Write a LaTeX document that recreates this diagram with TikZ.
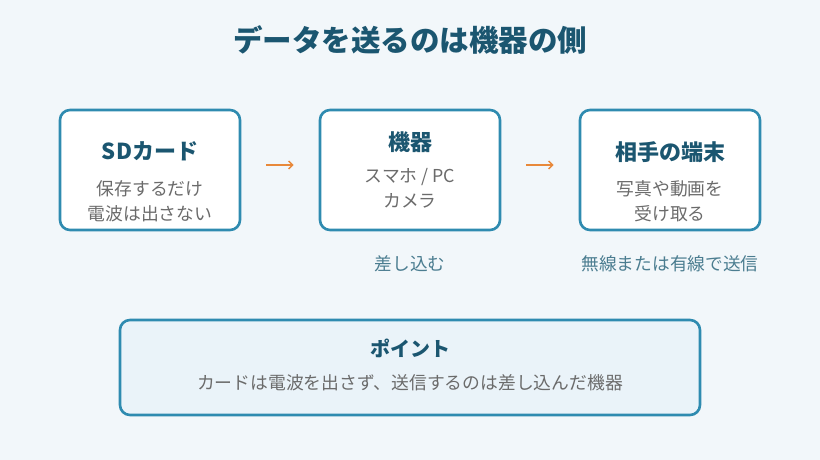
\documentclass[tikz,border=0pt]{standalone}
\usepackage{fontspec}
\setmainfont{Noto Sans CJK JP}
\usetikzlibrary{arrows.meta,positioning}
\definecolor{bgc}{HTML}{F2F7FA}
\definecolor{edgec}{HTML}{2F8BB0}
\definecolor{headc}{HTML}{1B5670}
\definecolor{subc}{HTML}{6B6B6B}
\definecolor{notec}{HTML}{4B7D90}
\definecolor{pointc}{HTML}{EAF3F9}
\definecolor{arrc}{HTML}{E8893A}
\tikzset{
  card/.style={draw=edgec, line width=2.6pt, rounded corners=10pt, fill=white,
               minimum width=180pt, minimum height=120pt, inner sep=0pt},
  cardttl/.style={font=\fontsize{22}{26}\selectfont\bfseries, text=headc},
  cardsub/.style={font=\fontsize{17.8}{25}\selectfont, text=subc, align=center},
  note/.style={font=\fontsize{17.7}{21}\selectfont, text=notec},
  flow/.style={draw=arrc, line width=1.4pt, -{Straight Barb[length=4pt,width=8pt]},
               shorten <=25pt, shorten >=25pt}
}
\begin{document}
\begin{tikzpicture}[x=1pt, y=-1pt]
  \fill[bgc] (0,0) rectangle (820,460);
  \useasboundingbox (0,0) rectangle (820,460);
  \node[font=\fontsize{29.5}{34}\selectfont\bfseries, text=headc] (title) at (410,40)
       {データを送るのは機器の側};
  % three cards
  \node[card] (sd)  at (150,170) {};
  \node[card] (dev) at (410,170) {};
  \node[card] (peer) at (670,170) {};
  \node[cardttl, yshift=19pt] (sdT) at (sd) {SDカード};
  \node[cardsub, yshift=-31.5pt] (sdS) at (sd) {保存するだけ\\電波は出さない};
  \node[cardttl, yshift=28pt] (devT) at (dev) {機器};
  \node[cardsub, yshift=-18pt] (devS) at (dev) {スマホ / PC\\カメラ};
  \node[cardttl, yshift=18pt] (peerT) at (peer) {相手の端末};
  \node[cardsub, yshift=-31.5pt] (peerS) at (peer) {写真や動画を\\受け取る};
  \draw[flow] ([yshift=5pt]sd.east) -- ([yshift=5pt]dev.west);
  \draw[flow] ([yshift=5pt]dev.east) -- ([yshift=5pt]peer.west);
  \node[note, below=21pt of dev] (devN) {差し込む};
  \node[note, below=21pt of peer] (peerN) {無線または有線で送信};
  % summary
  \node[card, fill=pointc, minimum width=580pt, minimum height=95pt] (point) at (410,367.5) {};
  \node[font=\fontsize{20}{24}\selectfont\bfseries, text=headc, yshift=19pt] (pointT) at (point) {ポイント};
  \node[cardsub, yshift=-15pt] (pointS) at (point) {カードは電波を出さず、送信するのは差し込んだ機器};
\end{tikzpicture}
\end{document}
